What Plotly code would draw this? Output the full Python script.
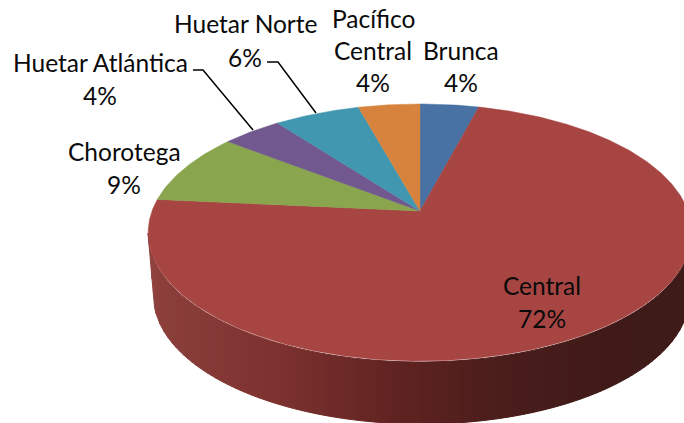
import numpy as np
import plotly.graph_objects as go

# --- data -------------------------------------------------------------
regions = ["Brunca", "Central", "Chorotega", "Huetar Atlántica", "Huetar Norte", "Pacífico Central"]
shares = [4.1, 72.4, 9.0, 4.2, 6.0, 4.3]
colors = ["#4872A4", "#A74543", "#89A54E", "#71588F", "#4197AF", "#D7833E"]

# --- 3-D pie projection (pixel-space axes) ----------------------------
W, H = 684, 423
CX, CY = 420.0, 211.0      # apex of the slices
K, A, B = 0.167, 124.9, 268.0


def project(turn):
    """Fraction of a turn clockwise from 12 o'clock -> screen point on the top face rim."""
    t = 2 * np.pi * np.asarray(turn)
    X, Y = np.sin(t), np.cos(t)
    d = 1 + K * Y
    return CX + B * X / d, CY - A * Y / d


fig = go.Figure()

# side wall: vertical strips with a horizontal shading ramp
stops_x = [148, 160, 280, 400, 500, 600, 700]
stops_r = [146, 140, 125, 95, 75, 65, 62]
stops_g = [68, 64, 50, 35, 30, 27, 26]
stops_b = [64, 60, 48, 33, 28, 25, 24]
BX, BY, BRX, BRY = 421.5, 296.0, 268.0, 128.0


def rim_top(x):
    return 233 + 129 * np.sqrt(np.clip(1 - ((x - 420) / 272) ** 2, 0, 1))


def rim_bottom(x):
    x = np.asarray(x, dtype=float)
    left = BX - BRX
    inside = BY + BRY * np.sqrt(np.clip(1 - ((x - BX) / BRX) ** 2, 0, 1))
    return np.where(x < left, BY - (left - x) / (left - 148) * (BY - 233), inside)


edges = np.linspace(148, 692, 137)
for x0, x1 in zip(edges[:-1], edges[1:]):
    xs = np.linspace(x0, x1, 4)
    xm = float(xs.mean())
    c = "rgb(%d,%d,%d)" % (
        np.interp(xm, stops_x, stops_r),
        np.interp(xm, stops_x, stops_g),
        np.interp(xm, stops_x, stops_b),
    )
    fig.add_trace(go.Scatter(
        x=np.r_[xs, xs[::-1], xs[0]],
        y=np.r_[rim_top(xs), rim_bottom(xs)[::-1], rim_top(xs)[0]],
        mode="lines", fill="toself", fillcolor=c,
        line=dict(color=c, width=1), hoverinfo="skip", showlegend=False,
    ))

# top face slices, computed from the shares
total = sum(shares)
start = 0.0
for name, v, col in zip(regions, shares, colors):
    end = start + v / total
    n = max(int(v * 6), 12)
    xs, ys = project(np.linspace(start, end, n))
    fig.add_trace(go.Scatter(
        x=np.r_[CX, xs, CX], y=np.r_[CY, ys, CY],
        mode="lines", fill="toself", fillcolor=col,
        line=dict(color=col, width=0.5), name=name,
        hoverinfo="name", showlegend=False,
    ))
    start = end

# leader lines
leaders = [
    ([193, 203, 253], [70, 70, 130]),
    ([267, 278, 316], [62, 62, 113]),
]
for lx, ly in leaders:
    fig.add_trace(go.Scatter(x=lx, y=ly, mode="lines", line=dict(color="#000000", width=1.5),
                             hoverinfo="skip", showlegend=False))

# labels: one line of text per row
label_rows = {
    "Brunca": (461, [("Brunca", 50)], 82),
    "Central": (542, [("Central", 285)], 318),
    "Chorotega": (124, [("Chorotega", 151)], 184),
    "Huetar Atlántica": (100, [("Huetar Atlántica", 62)], 95),
    "Huetar Norte": (245, [("Huetar Norte", 23)], 57),
    "Pacífico Central": (373, [("Pacífico", 18), ("Central", 50)], 82),
}
for name, v in zip(regions, shares):
    cx, rows, py = label_rows[name]
    for txt, y in rows + [(f"{round(v / total * 100)}%", py)]:
        fig.add_annotation(x=cx, y=y, text=txt, showarrow=False, xanchor="center", yanchor="middle",
                           font=dict(family="Lato, Carlito, sans-serif", size=24.5, color="#0a0a0a"))

fig.update_layout(
    width=W, height=H, margin=dict(l=0, r=0, t=0, b=0),
    paper_bgcolor="white", plot_bgcolor="white", showlegend=False,
    xaxis=dict(range=[0, W], visible=False, fixedrange=True),
    yaxis=dict(range=[H, 0], visible=False, fixedrange=True),
)
fig.write_html("out.html", config={"displayModeBar": False},
               post_script="document.body.style.margin='0';document.documentElement.style.overflow='hidden';")
